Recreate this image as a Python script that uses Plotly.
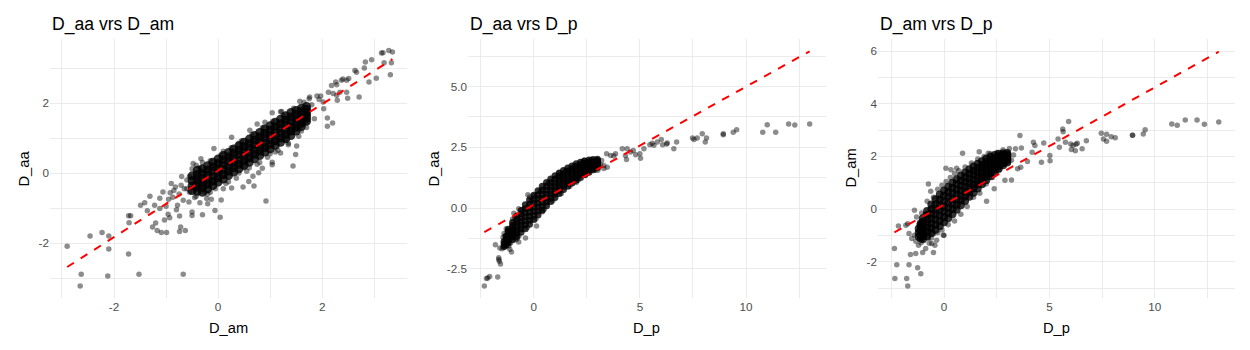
import plotly.graph_objects as go

FONT = "Arial, 'Liberation Sans', sans-serif"

# ---- panel 1: D_aa vs D_am ----------------------------------------------
# dense core, one column of y values per x position
P1_CORE_X = [-0.5, -0.4, -0.3, -0.2, -0.1, 0.0, 0.1, 0.2, 0.3, 0.4, 0.5, 0.6,
             0.7, 0.8, 0.9, 1.0, 1.1, 1.2, 1.3, 1.4, 1.5, 1.6, 1.7]
P1_CORE_Y = [
    [-0.50, -0.36, -0.22, -0.08],
    [-0.52, -0.40, -0.28, -0.16, -0.04, 0.08],
    [-0.55, -0.42, -0.29, -0.15, -0.02, 0.12],
    [-0.45, -0.32, -0.19, -0.05, 0.08, 0.21],
    [-0.36, -0.23, -0.10, 0.05, 0.18, 0.31],
    [-0.26, -0.13, 0.00, 0.14, 0.27, 0.40],
    [-0.17, -0.04, 0.10, 0.24, 0.37, 0.50],
    [-0.07, 0.06, 0.19, 0.33, 0.46, 0.59],
    [0.03, 0.16, 0.29, 0.43, 0.56, 0.69],
    [0.12, 0.25, 0.38, 0.52, 0.65, 0.78],
    [0.22, 0.35, 0.48, 0.62, 0.75, 0.88],
    [0.31, 0.44, 0.57, 0.71, 0.84, 0.97],
    [0.41, 0.54, 0.67, 0.81, 0.94, 1.07],
    [0.50, 0.63, 0.76, 0.90, 1.03, 1.16],
    [0.60, 0.73, 0.86, 1.00, 1.13, 1.26],
    [0.69, 0.82, 0.95, 1.09, 1.22, 1.35],
    [0.79, 0.92, 1.05, 1.19, 1.32, 1.45],
    [0.88, 1.01, 1.14, 1.28, 1.41, 1.54],
    [0.98, 1.11, 1.24, 1.38, 1.51, 1.64],
    [1.07, 1.20, 1.33, 1.47, 1.60, 1.73],
    [1.20, 1.31, 1.43, 1.56, 1.68, 1.79],
    [1.33, 1.43, 1.54, 1.64, 1.75, 1.85],
    [1.48, 1.57, 1.65, 1.73, 1.82, 1.90],
]
# individual points around and away from the core
P1_X = [-2.90, -2.65, -2.63, -2.46, -2.23, -2.10, -2.10, -2.12, -1.72, -1.52, -0.67, 0.92,
        -1.72, -1.68, -1.71, -1.49, -1.41, -1.36, -1.31, -1.26, -1.22, -1.20, -1.17, -1.12,
        -1.12, -1.09, -1.03, -0.99, -0.96, -0.93, -1.06, -0.92, -0.87, -0.78, -0.74, -0.72,
        -0.74, -0.63, -0.50, -0.50, -0.30, -0.20, -0.13, -0.06, 0.04, 0.06, -0.22, -0.42,
        -0.56, -0.67, -0.82, -0.71, 0.26, 0.10, 0.48, 0.59, 0.69, 0.67, 0.78, 0.85, 1.04,
        1.04, 1.44, 1.49, 1.20, 1.51, 1.35,
        -0.48, -0.42, -0.33, -0.08, 0.26, 0.61, 0.75, 1.04, 1.22, 1.57, 1.76,
        1.94, 1.97, 2.03, 2.10, 2.10, 2.20, 2.02, 2.12, 2.18, 2.26, 2.28, 2.37, 2.40, 2.29,
        2.49, 2.71, 2.47, 2.51, 2.63, 2.66, 2.83, 2.95, 2.81, 2.90, 3.04, 3.14, 3.17, 3.28,
        3.35, 3.19, 3.33, 3.31, 2.28, 2.34, 2.21, 2.47,
        -0.55, -0.50, -0.60, -0.45, -0.35, -0.25, -0.15, -0.05, 0.05, 0.15, 0.25, 0.35,
        0.45, 0.55, 0.65, 0.75, 0.85, 0.95, 1.05, 1.15, 1.25, 1.35, 1.45, 1.55, 1.65, 1.70,
        1.80, 1.85, 1.90, -0.30, 0.10, 0.60, 1.00, 1.20, 0.40, -0.20, 0.20, 0.90, 1.60, 1.75,
        -0.95, -0.85, -0.75, -0.65, -0.60, -0.70, -0.90, -1.00, -0.80, -0.55, -0.45, -0.35,
        -0.30, -0.15, 0.40, 0.50, 0.80, 1.10, 1.30, 1.60, 1.70]
P1_Y = [-2.09, -3.23, -2.89, -1.80, -1.70, -1.80, -2.17, -2.94, -2.31, -2.89, -2.89, -0.80,
        -1.22, -1.22, -1.42, -0.92, -0.85, -1.08, -0.66, -1.54, -0.92, -1.43, -1.64, -0.72,
        -1.01, -1.70, -1.34, -1.70, -1.18, -1.28, -0.54, -0.56, -0.69, -0.92, -1.23, -1.54,
        -1.67, -1.64, -1.11, -1.21, -1.19, -0.88, -0.75, -1.07, -1.26, -0.77, -0.73, -0.66,
        -0.83, -0.78, -0.40, -0.35, -0.43, -0.45, -0.40, -0.24, -0.37, -0.09, 0.01, 0.14, 0.24,
        0.31, 0.20, 0.53, 0.57, 0.77, 0.81,
        0.27, 0.22, 0.41, 0.70, 1.02, 1.22, 1.40, 1.72, 1.76, 2.05, 2.17,
        2.10, 2.20, 1.84, 1.57, 1.34, 1.43, 2.03, 2.31, 2.50, 2.60, 2.52, 2.65, 2.69, 2.08,
        2.14, 2.17, 2.65, 2.70, 2.93, 2.88, 3.17, 3.24, 3.00, 2.60, 2.71, 3.43, 3.44, 3.50,
        3.46, 3.15, 3.15, 2.81, 2.22, 2.31, 2.27, 2.31,
        -0.10, 0.12, -0.45, -0.70, 0.15, -0.55, 0.35, -0.45, 0.50, -0.30, 0.72, -0.15,
        0.92, 0.05, 1.10, 0.25, 1.30, 0.45, 1.48, 0.65, 1.65, 0.85, 1.85, 1.05, 2.02, 1.30,
        1.95, 1.55, 2.20, 0.30, 0.62, 0.15, 0.55, 1.75, 0.85, -0.60, -0.25, 1.45, 1.20, 2.12,
        -0.75, -0.50, -0.60, -0.45, -0.20, -0.10, -0.30, -0.95, -1.05, -0.55, -0.40, -0.85,
        -0.30, -0.55, 0.00, 0.15, 0.30, 0.60, 0.95, 1.35, 1.45]
P1_FIT = [0.07, 0.95]  # intercept, slope of the red dashed line

# ---- panel 2: D_aa vs D_p -------------------------------------------------
P2_CORE_X = [-1.4, -1.3, -1.2, -1.0, -0.8, -0.6, -0.4, -0.2, 0.0, 0.2, 0.4, 0.6, 0.8,
             1.0, 1.2, 1.4, 1.6, 1.8, 2.0, 2.2, 2.4, 2.6, 2.8, 3.0]
P2_CORE_Y = [
    [-1.58, -1.48, -1.38],
    [-1.52, -1.40, -1.28, -1.16],
    [-1.43, -1.34, -1.24, -1.15, -1.06, -0.96, -0.87],
    [-1.30, -1.18, -1.07, -0.95, -0.83, -0.72, -0.60],
    [-1.17, -1.03, -0.89, -0.75, -0.61, -0.47, -0.33],
    [-1.00, -0.85, -0.70, -0.55, -0.40, -0.25, -0.10],
    [-0.85, -0.69, -0.52, -0.36, -0.20, -0.03, 0.13],
    [-0.67, -0.50, -0.34, -0.17, 0.00, 0.16, 0.33],
    [-0.47, -0.30, -0.14, 0.03, 0.20, 0.36, 0.53],
    [-0.29, -0.12, 0.04, 0.21, 0.38, 0.54, 0.71],
    [-0.09, 0.07, 0.24, 0.40, 0.56, 0.73, 0.89],
    [0.09, 0.25, 0.41, 0.57, 0.73, 0.89, 1.05],
    [0.27, 0.42, 0.58, 0.73, 0.88, 1.04, 1.19],
    [0.43, 0.58, 0.73, 0.88, 1.03, 1.18, 1.33],
    [0.60, 0.74, 0.88, 1.02, 1.16, 1.30, 1.44],
    [0.76, 0.89, 1.02, 1.15, 1.28, 1.41, 1.54],
    [0.89, 1.02, 1.14, 1.27, 1.40, 1.52, 1.65],
    [1.03, 1.15, 1.26, 1.38, 1.50, 1.61, 1.73],
    [1.14, 1.25, 1.37, 1.48, 1.59, 1.71, 1.82],
    [1.26, 1.36, 1.47, 1.57, 1.67, 1.78, 1.88],
    [1.37, 1.46, 1.56, 1.65, 1.74, 1.84, 1.93],
    [1.47, 1.55, 1.64, 1.72, 1.80, 1.89, 1.97],
    [1.57, 1.64, 1.71, 1.78, 1.85, 1.92, 1.99],
    [1.67, 1.73, 1.78, 1.84, 1.90, 1.95, 2.01],
]
P2_X = [-2.33, -2.23, -2.17, -2.08, -1.70, -1.65, -1.65, -1.62, -1.57, -1.81, -1.60, -1.49,
        -1.38, -1.18, -1.13, -1.05, -1.29, -1.23, -1.05, -0.94, -0.79, -0.71, -0.39, 0.13,
        -0.28, -0.94, -0.71,
        2.36, 3.43, 3.62, 3.77, 3.85, 4.17, 4.40, 4.56, 4.32, 4.69, 4.80, 5.03, 5.00, 4.37,
        3.46, 3.30, 3.02, 3.14,
        5.19, 5.47, 5.58, 5.66, 5.82, 6.01, 6.07, 6.26, 6.29, 6.73, 6.60, 7.48, 7.55, 7.70,
        7.94, 8.14, 8.08, 8.93, 8.93, 9.40, 9.56, 10.79, 11.00, 11.40, 12.01, 12.30, 13.00,
        -1.30, -1.10, -0.90, -0.70, -0.50, -0.30, -0.10, 0.10, 0.30, 0.50, 0.70, 0.90, 1.10,
        1.30, 1.50, 1.70, 1.90, 2.10, 2.30, 2.50, 2.70, 2.90, 3.20, 3.30, -0.20, 0.40, 1.20,
        2.00, 0.00, -1.00,
        -1.40, -1.35, -1.25, -1.20, -1.10, -1.00, -0.90, -1.15, -1.45, -0.85]
P2_Y = [-3.21, -2.90, -2.88, -2.82, -2.84, -2.04, -2.12, -2.19, -2.30, -1.51, -1.64, -1.67,
        -1.59, -1.56, -1.70, -1.81, -1.26, -1.32, -1.03, -0.88, -1.26, -1.40, -1.23, -0.74,
        0.55, -0.21, -0.03,
        1.96, 2.23, 2.16, 2.14, 2.23, 2.44, 2.44, 2.30, 2.16, 2.37, 2.19, 2.05, 2.23, 2.00,
        1.68, 1.75, 1.55, 1.78,
        2.44, 2.60, 2.66, 2.58, 2.71, 2.82, 2.60, 2.63, 2.67, 2.71, 2.44, 2.88, 2.82, 2.88,
        3.05, 2.88, 2.71, 3.01, 3.05, 3.12, 3.22, 3.12, 3.42, 3.12, 3.45, 3.41, 3.45,
        -0.85, -1.45, -0.40, -1.15, -0.05, -0.80, 0.30, -0.45, 0.70, -0.05, 1.05, 0.30, 1.30,
        0.60, 1.55, 0.90, 1.75, 1.15, 1.90, 1.40, 2.00, 1.55, 1.95, 1.62, 0.45, -0.15, 1.45,
        1.05, 0.50, -0.45,
        -1.05, -1.15, -1.00, -1.20, -1.10, -1.25, -1.10, -0.95, -1.20, -1.30]
P2_FIT = [0.14, 0.485]

# ---- panel 3: D_am vs D_p -------------------------------------------------
P3_CORE_X = [-1.2, -1.1, -1.0, -0.8, -0.6, -0.4, -0.2, 0.0, 0.2, 0.4, 0.6, 0.8, 1.0,
             1.2, 1.4, 1.6, 1.8, 2.0, 2.2, 2.4, 2.6, 2.8, 3.0]
P3_CORE_Y = [
    [-1.05, -0.90, -0.75],
    [-1.12, -0.98, -0.84, -0.70, -0.56],
    [-1.15, -1.02, -0.88, -0.75, -0.62, -0.48, -0.35],
    [-1.03, -0.87, -0.71, -0.55, -0.39, -0.23, -0.07],
    [-0.91, -0.73, -0.55, -0.37, -0.19, -0.01, 0.17],
    [-0.79, -0.60, -0.40, -0.21, -0.02, 0.18, 0.37],
    [-0.65, -0.45, -0.25, -0.05, 0.15, 0.35, 0.55],
    [-0.50, -0.30, -0.10, 0.10, 0.30, 0.50, 0.70],
    [-0.35, -0.15, 0.05, 0.25, 0.45, 0.65, 0.85],
    [-0.20, 0.00, 0.20, 0.40, 0.60, 0.80, 1.00],
    [-0.03, 0.16, 0.36, 0.55, 0.74, 0.94, 1.13],
    [0.14, 0.33, 0.51, 0.70, 0.89, 1.07, 1.26],
    [0.31, 0.49, 0.67, 0.85, 1.03, 1.21, 1.39],
    [0.47, 0.64, 0.82, 0.99, 1.16, 1.34, 1.51],
    [0.62, 0.79, 0.95, 1.12, 1.29, 1.45, 1.62],
    [0.78, 0.94, 1.09, 1.25, 1.41, 1.56, 1.72],
    [0.94, 1.09, 1.23, 1.38, 1.53, 1.67, 1.82],
    [1.09, 1.23, 1.36, 1.50, 1.64, 1.77, 1.91],
    [1.25, 1.37, 1.50, 1.62, 1.74, 1.87, 1.99],
    [1.39, 1.50, 1.61, 1.72, 1.83, 1.94, 2.05],
    [1.54, 1.63, 1.73, 1.82, 1.91, 2.01, 2.10],
    [1.66, 1.74, 1.81, 1.89, 1.97, 2.04, 2.12],
    [1.77, 1.83, 1.89, 1.95, 2.01, 2.07, 2.13],
]
P3_X = [-2.35, -2.24, -2.33, -1.77, -1.72, -1.66, -1.25, -1.10, -1.59, -1.34, -1.01, -0.87,
        -0.50, -2.16, -1.81, -1.72, -1.40, -1.66, -1.53, -1.40, -1.34, -1.21, -1.09, -0.74,
        -0.58, -0.43, -0.35, -0.03, -0.74, -0.63, -1.06, -1.14,
        0.09, 0.33, 0.88, 1.67, 2.10, 2.02, 2.38, 2.89, 3.20, 3.39, 3.67, 3.60, 3.49, 3.64,
        3.96, 4.24, 4.31, 4.18, 4.62, 4.73, 5.03, 5.02, 5.41, 5.47, 5.63, 5.65, 5.91, 5.76,
        6.01, 6.12, 6.26, 6.32, 6.04, 6.23, 6.55, 6.75, 7.46, 7.71, 7.56, 7.71, 7.93, 8.12,
        8.94, 8.94, 9.45, 9.54, 10.80, 11.06, 11.44, 12.00, 12.35, 13.03,
        -1.20, -1.10, -0.90, -0.80, -0.90, -0.70, -0.50, -0.50, -0.30, -0.30, -0.10, -0.10,
        0.10, 0.20, 0.30, 0.50, 0.50, 0.80, 0.70, 1.10, 1.00, 1.40, 1.30, 1.70, 1.60, 2.00,
        1.90, 2.30, 2.20, 2.60, 2.50, 2.90, 2.80, 3.20, 3.30, 3.10, -0.60, 0.00, -1.30, 0.60]
P3_Y = [-1.50, -2.12, -2.64, -2.64, -2.92, -2.12, -2.23, -2.46, -1.73, -1.69, -1.65, -1.50,
        -1.65, -0.64, -0.62, -0.56, -0.05, -0.93, -1.12, -1.00, -1.22, -1.38, -1.28, -1.12,
        -1.31, -1.38, -1.19, -1.00, 0.95, 0.68, -0.15, -0.49,
        1.55, 1.49, 2.12, 2.18, 2.12, 0.30, 0.77, 1.09, 1.10, 2.29, 2.32, 2.79, 1.53, 1.59,
        1.81, 2.54, 2.41, 2.16, 1.78, 2.51, 1.83, 2.03, 2.66, 2.35, 3.04, 2.94, 3.33, 2.54,
        2.47, 2.41, 2.46, 2.50, 2.26, 2.21, 2.29, 2.59, 2.88, 2.84, 2.66, 2.58, 2.75, 2.71,
        2.80, 2.80, 2.85, 3.01, 3.23, 3.18, 3.38, 3.38, 3.22, 3.31,
        -0.60, -0.90, -0.20, 0.30, -1.00, -1.30, 0.45, -0.95, 0.75, -0.90, 0.90, -0.80,
        1.05, -0.60, 1.20, -0.45, 1.35, -0.20, 1.45, 0.10, 1.60, 0.45, 1.75, 0.60, 1.90, 0.95,
        2.00, 1.20, 2.10, 1.45, 2.15, 1.70, 2.25, 1.85, 2.05, 2.30, -1.10, -1.00, -0.30, 1.55]
P3_FIT = [0.165, 0.446]

# ---- axis ticks / labels --------------------------------------------------
P1_XTICKS, P1_XLABELS = [-2, 0, 2], ["-2", "0", "2"]
P1_YTICKS, P1_YLABELS = [-2, 0, 2], ["-2", "0", "2"]
P2_XTICKS, P2_XLABELS = [0, 5, 10], ["0", "5", "10"]
P2_YTICKS, P2_YLABELS = [-2.5, 0, 2.5, 5], ["-2.5", "0.0", "2.5", "5.0"]
P3_XTICKS, P3_XLABELS = [0, 5, 10], ["0", "5", "10"]
P3_YTICKS, P3_YLABELS = [-2, 0, 2, 4, 6], ["-2", "0", "2", "4", "6"]

W, H = 1250, 350
PLOT_TOP, PLOT_BOTTOM = 39, 298

panels = [
    dict(core_x=P1_CORE_X, core_y=P1_CORE_Y, x=P1_X, y=P1_Y, fit=P1_FIT,
         title="D_aa vrs D_am", xlab="D_am", ylab="D_aa", left=50, right=407, ylab_x=23,
         xrange=[-3.23, 3.63], yrange=[-3.57, 3.83],
         xticks=(P1_XTICKS, P1_XLABELS), yticks=(P1_YTICKS, P1_YLABELS),
         xminor=[-3, -1, 1, 3], yminor=[-3, -1, 1, 3], core_size=9),
    dict(core_x=P2_CORE_X, core_y=P2_CORE_Y, x=P2_X, y=P2_Y, fit=P2_FIT,
         title="D_aa vrs D_p", xlab="D_p", ylab="D_aa", left=468, right=826, ylab_x=433,
         xrange=[-3.1, 13.77], yrange=[-3.7, 6.95],
         xticks=(P2_XTICKS, P2_XLABELS), yticks=(P2_YTICKS, P2_YLABELS),
         xminor=[-2.5, 2.5, 7.5, 12.5], yminor=[-1.25, 1.25, 3.75, 6.25], core_size=7),
    dict(core_x=P3_CORE_X, core_y=P3_CORE_Y, x=P3_X, y=P3_Y, fit=P3_FIT,
         title="D_am vrs D_p", xlab="D_p", ylab="D_am", left=878, right=1235, ylab_x=850,
         xrange=[-3.13, 13.8], yrange=[-3.38, 6.46],
         xticks=(P3_XTICKS, P3_XLABELS), yticks=(P3_YTICKS, P3_YLABELS),
         xminor=[-2.5, 2.5, 7.5, 12.5], yminor=[-3, -1, 1, 3, 5], core_size=8),
]

fig = go.Figure()
annotations = []
ydom = [1 - PLOT_BOTTOM / H, 1 - PLOT_TOP / H]
grid = "#EBEBEB"

for i, p in enumerate(panels, start=1):
    sfx = "" if i == 1 else str(i)
    xref, yref = f"x{sfx}", f"y{sfx}"

    cx, cy = [], []
    for x0, col in zip(p["core_x"], p["core_y"]):
        cx += [x0] * len(col)
        cy += col
    fig.add_trace(go.Scatter(
        x=cx, y=cy, mode="markers", xaxis=xref, yaxis=yref, hoverinfo="skip",
        marker=dict(size=p["core_size"], color="black", opacity=0.8, line=dict(width=0)),
    ))
    fig.add_trace(go.Scatter(
        x=p["x"], y=p["y"], mode="markers", xaxis=xref, yaxis=yref,
        marker=dict(size=5.5, color="black", opacity=0.45, line=dict(width=0)),
    ))

    all_x = p["x"] + cx
    x_lo, x_hi = min(all_x), max(all_x)
    b0, b1 = p["fit"]
    fig.add_trace(go.Scatter(
        x=[x_lo, x_hi], y=[b0 + b1 * x_lo, b0 + b1 * x_hi], mode="lines",
        xaxis=xref, yaxis=yref, hoverinfo="skip",
        line=dict(color="red", width=2, dash="8px,8px"),
    ))

    xdom = [p["left"] / W, p["right"] / W]
    common = dict(showgrid=True, gridcolor=grid, gridwidth=1.1, zeroline=False,
                  showline=False, ticks="", automargin=False,
                  tickfont=dict(family=FONT, size=11.7, color="#4D4D4D"))
    fig.update_layout(**{
        f"xaxis{sfx}": dict(domain=xdom, anchor=yref, range=p["xrange"],
                            tickvals=p["xticks"][0], ticktext=p["xticks"][1],
                            minor=dict(tickvals=p["xminor"], showgrid=True, gridcolor=grid,
                                       gridwidth=0.6, ticks=""),
                            **common),
        f"yaxis{sfx}": dict(domain=ydom, anchor=xref, range=p["yrange"],
                            tickvals=p["yticks"][0], ticktext=p["yticks"][1],
                            minor=dict(tickvals=p["yminor"], showgrid=True, gridcolor=grid,
                                       gridwidth=0.6, ticks=""),
                            **common),
    })

    annotations += [
        dict(text=p["title"], x=p["left"] / W, y=1 - 24 / H, xref="paper", yref="paper",
             xanchor="left", yanchor="middle", showarrow=False,
             font=dict(family=FONT, size=17.6, color="black")),
        dict(text=p["xlab"], x=(p["left"] + p["right"]) / 2 / W, y=1 - 328 / H,
             xref="paper", yref="paper", xanchor="center", yanchor="middle", showarrow=False,
             font=dict(family=FONT, size=14.7, color="black")),
        dict(text=p["ylab"], x=p["ylab_x"] / W, y=1 - (PLOT_TOP + PLOT_BOTTOM) / 2 / H,
             xref="paper", yref="paper", xanchor="center", yanchor="middle", textangle=-90,
             showarrow=False, font=dict(family=FONT, size=14.7, color="black")),
    ]

fig.update_layout(
    width=W, height=H,
    margin=dict(l=0, r=0, t=0, b=0),
    paper_bgcolor="white", plot_bgcolor="white",
    showlegend=False,
    annotations=annotations,
    font=dict(family=FONT),
)

# the page's default body margin would shift the figure off the window origin
fig.write_html("out.html", config={"displayModeBar": False},
               post_script="document.body.style.margin='0';")
